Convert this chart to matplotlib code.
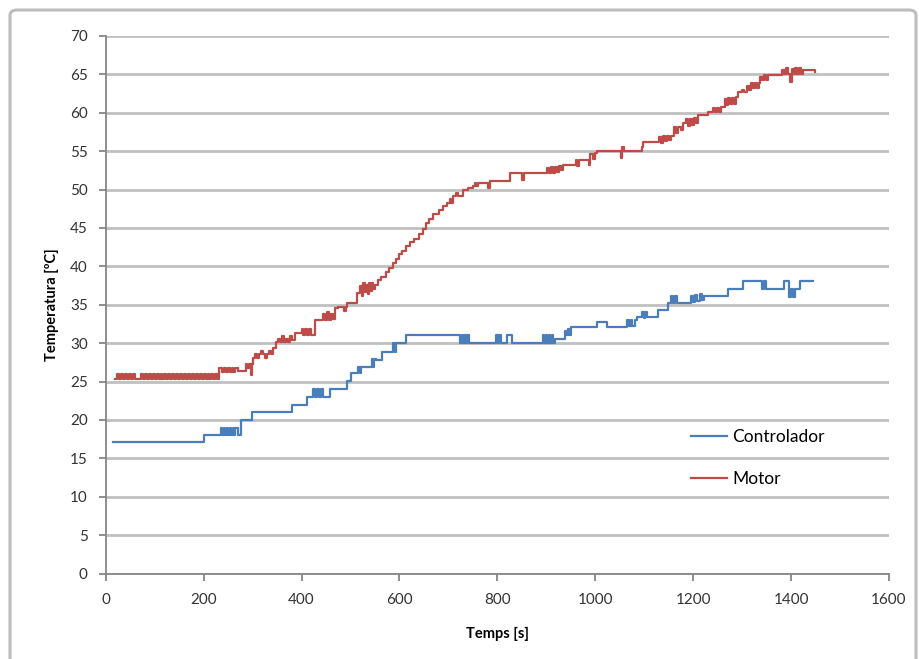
import matplotlib
matplotlib.use("Agg")
import matplotlib.pyplot as plt
from matplotlib.patches import FancyBboxPatch

plt.rcParams['font.family'] = ['Lato', 'DejaVu Sans']

# Controller temperature: step breakpoints (time [s], temperature [ºC])
ctrl_time = [15, 200, 235, 238, 241, 244, 247, 250, 253, 256, 259, 262, 265, 270,
             276, 298, 380, 412, 423, 427, 431, 435, 439, 443, 458, 461,
             492, 496, 502, 516, 519, 522, 543, 546, 549, 553, 564, 587, 590,
             593, 598, 613, 724, 727, 730, 733, 736, 739, 742, 752,
             798, 801, 804, 808, 820, 830, 893, 896, 899, 902, 905, 908, 911,
             914, 918, 938, 941, 944, 947, 950, 1003, 1023, 1064, 1068, 1072,
             1076, 1081, 1085, 1096, 1099, 1102, 1106, 1128, 1149, 1155, 1159,
             1163, 1167, 1173, 1196, 1200, 1204, 1208, 1214, 1218, 1222, 1226,
             1272, 1302, 1341, 1345, 1349, 1375, 1385, 1396, 1400, 1404, 1409,
             1418, 1425, 1445]
ctrl_temp = [17.1, 18.0, 19.0, 18.1, 19.0, 18.1, 19.0, 18.1, 19.0, 18.1, 19.0, 18.1, 19.0, 18.1,
             20.0, 21.0, 22.0, 23.0, 24.0, 23.0, 24.0, 23.0, 24.0, 23.0, 24.0, 24.0,
             25.1, 25.1, 26.1, 26.9, 26.1, 26.9, 27.9, 26.9, 27.9, 27.8, 28.9, 30.0, 28.9,
             30.0, 30.0, 31.05, 30.0, 31.05, 30.0, 31.05, 30.0, 31.05, 30.0, 30.0,
             31.05, 30.0, 31.05, 30.0, 31.05, 30.0, 31.05, 30.0, 31.05, 30.0, 31.05, 30.0, 31.05,
             30.0, 30.6, 31.6, 31.0, 31.8, 31.1, 32.1, 32.8, 32.1, 33.0, 32.2, 33.0,
             32.2, 33.0, 33.4, 34.1, 33.3, 34.1, 33.4, 34.3, 35.2, 36.1, 35.2,
             36.1, 35.2, 35.2, 36.2, 35.3, 36.3, 35.5, 36.4, 35.6, 36.2, 36.2,
             37.1, 38.1, 37.1, 38.1, 37.1, 37.1, 38.1, 36.0, 37.1, 36.0, 37.1,
             38.1, 38.1, 38.1]

# Motor temperature: step breakpoints (time [s], temperature [ºC])
motor_time = [19, 23, 27, 31, 35, 39, 43, 48, 52, 56, 60, 64,
              72, 76, 80, 84, 88, 92, 96, 100, 104, 108, 112, 116, 120, 124, 128,
              132, 136, 140, 144, 148, 152, 156, 160, 164, 168, 172, 176, 180, 184,
              188, 192, 196, 200, 204, 208, 212, 216, 220, 224, 228,
              231, 237, 241, 245, 249, 253, 257, 261, 265, 270, 286, 289, 292,
              296, 298, 301, 305, 309, 313, 317, 321, 325, 329, 333, 337, 341,
              347, 352, 356, 360, 364, 368, 372, 376, 380, 387, 400, 404, 408,
              412, 416, 420, 427, 444, 448, 452, 456, 460, 464, 468, 475, 487,
              490, 493, 513, 520, 523, 526, 529, 532, 535, 538, 541, 544, 547,
              551, 556, 562, 573, 578, 586, 592, 600, 606, 614, 622, 630, 640,
              648, 654, 661, 668, 680, 689, 698, 703, 706, 709, 716, 720, 729,
              740, 750, 754, 757, 760, 764, 781, 785, 826, 851, 854, 901, 905,
              909, 913, 917, 921, 925, 930, 935, 960, 963, 966, 987, 990, 995,
              1000, 1003, 1052, 1055, 1058, 1095, 1097, 1130, 1134, 1138, 1142,
              1146, 1150, 1154, 1160, 1165, 1169, 1175, 1179, 1186, 1190, 1194,
              1198, 1202, 1206, 1210, 1230, 1240, 1244, 1248, 1252, 1257, 1264,
              1268, 1272, 1276, 1280, 1284, 1288, 1292, 1300, 1304, 1310, 1314,
              1318, 1322, 1326, 1330, 1334, 1337, 1341, 1345, 1349, 1353, 1357,
              1381, 1385, 1389, 1393, 1398, 1401, 1405, 1409, 1413, 1417, 1421,
              1425, 1449]
motor_temp = [25.3, 26.0, 25.3, 26.0, 25.3, 26.0, 25.3, 26.0, 25.3, 26.0, 25.3, 25.3,
              26.0, 25.3, 26.0, 25.3, 26.0, 25.3, 26.0, 25.3, 26.0, 25.3, 26.0, 25.3, 26.0, 25.3, 26.0,
              25.3, 26.0, 25.3, 26.0, 25.3, 26.0, 25.3, 26.0, 25.3, 26.0, 25.3, 26.0, 25.3, 26.0,
              25.3, 26.0, 25.3, 26.0, 25.3, 26.0, 25.3, 26.0, 25.3, 26.0, 25.3,
              26.8, 26.3, 26.8, 26.3, 26.8, 26.3, 26.8, 26.3, 26.8, 26.4, 27.3, 26.8, 27.3,
              25.8, 27.3, 28.0, 28.6, 28.1, 28.6, 29.0, 28.6, 28.1, 28.6, 29.0, 28.6, 29.3,
              30.2, 30.6, 30.2, 30.9, 30.2, 30.6, 30.2, 30.9, 30.4, 31.3, 31.8, 31.1, 31.8,
              31.1, 31.8, 31.1, 33.0, 33.8, 33.0, 34.0, 33.0, 33.8, 33.2, 34.6, 34.7, 34.2,
              34.7, 35.2, 36.5, 37.4, 36.2, 37.8, 36.6, 37.6, 36.4, 37.8, 36.8, 37.8, 37.0,
              37.6, 38.2, 38.6, 39.3, 39.8, 40.4, 40.9, 41.6, 42.0, 42.6, 43.2, 43.6, 44.2,
              44.9, 45.6, 46.2, 46.8, 47.3, 47.8, 48.2, 48.8, 48.2, 49.1, 49.6, 49.1, 49.9,
              50.2, 50.4, 50.9, 50.4, 50.9, 50.9, 50.2, 51.1, 52.1, 51.3, 52.1, 52.8, 52.1,
              52.9, 52.2, 52.9, 52.3, 53.0, 52.5, 53.2, 53.9, 53.1, 53.8, 53.2, 54.6, 54.0,
              54.7, 55.0, 54.1, 55.6, 55.0, 55.6, 56.2, 56.8, 56.1, 57.0, 56.3,
              57.0, 56.4, 57.0, 58.2, 57.4, 58.2, 57.7, 58.6, 59.2, 58.3, 59.2,
              58.4, 59.3, 58.6, 59.7, 60.1, 60.6, 60.1, 60.6, 60.1, 60.8, 61.8,
              61.0, 61.9, 61.1, 61.9, 61.2, 62.0, 62.7, 63.0, 62.7, 63.5, 63.0,
              63.9, 63.2, 63.9, 63.2, 63.9, 64.7, 64.2, 64.9, 64.3, 64.9, 64.9,
              65.6, 65.0, 65.8, 65.1, 64.0, 65.7, 65.0, 65.8, 65.1, 65.8, 65.1,
              65.6, 65.3]

x_ticks = [0, 200, 400, 600, 800, 1000, 1200, 1400, 1600]
y_ticks = [0, 5, 10, 15, 20, 25, 30, 35, 40, 45, 50, 55, 60, 65, 70]

blue = '#4a7ebb'
red = '#be4b48'
axis_grey = '#868686'

fig = plt.figure(figsize=(9.2, 6.59), dpi=100)
ax = fig.add_axes([0.1149, 0.1297, 0.8514, 0.8158])

# rounded chart frame around everything
frame = FancyBboxPatch((10 / 920, -0.05), 906 / 920, 1 - 10 / 659 + 0.05,
                       boxstyle='round,pad=0,rounding_size=0.008',
                       transform=fig.transFigure, facecolor='none',
                       edgecolor='#bdbdbd', linewidth=2.2, zorder=0)
fig.patches.append(frame)

ax.step(ctrl_time, ctrl_temp, where='post', color=blue, linewidth=1.6, label='Controlador')
ax.step(motor_time, motor_temp, where='post', color=red, linewidth=1.6, label='Motor')

ax.set_xlim(0, 1600)
ax.set_ylim(0, 70)
ax.set_xticks(x_ticks)
ax.set_yticks(y_ticks)

ax.yaxis.grid(True, color='#c0c0c0', linewidth=2.0)
ax.set_axisbelow(True)
for side in ('top', 'right'):
    ax.spines[side].set_visible(False)
for side in ('left', 'bottom'):
    ax.spines[side].set_color(axis_grey)
    ax.spines[side].set_linewidth(1.3)

ax.tick_params(axis='both', direction='out', length=5, width=1.3, color=axis_grey,
               labelsize=11, labelcolor='#333333')
ax.tick_params(axis='y', pad=8)
ax.tick_params(axis='x', pad=9)

ax.set_xlabel('Temps [s]', fontsize=10.5, fontweight='bold', labelpad=14)
ax.set_ylabel('Temperatura [ºC]', fontsize=10.5, fontweight='bold', labelpad=8)

ax.legend(loc='upper left', bbox_to_anchor=(0.738, 0.282), frameon=False,
          fontsize=12.5, handlelength=2.1, handletextpad=0.3, labelspacing=1.5,
          borderaxespad=0)

fig.savefig('out.png', dpi=100)
